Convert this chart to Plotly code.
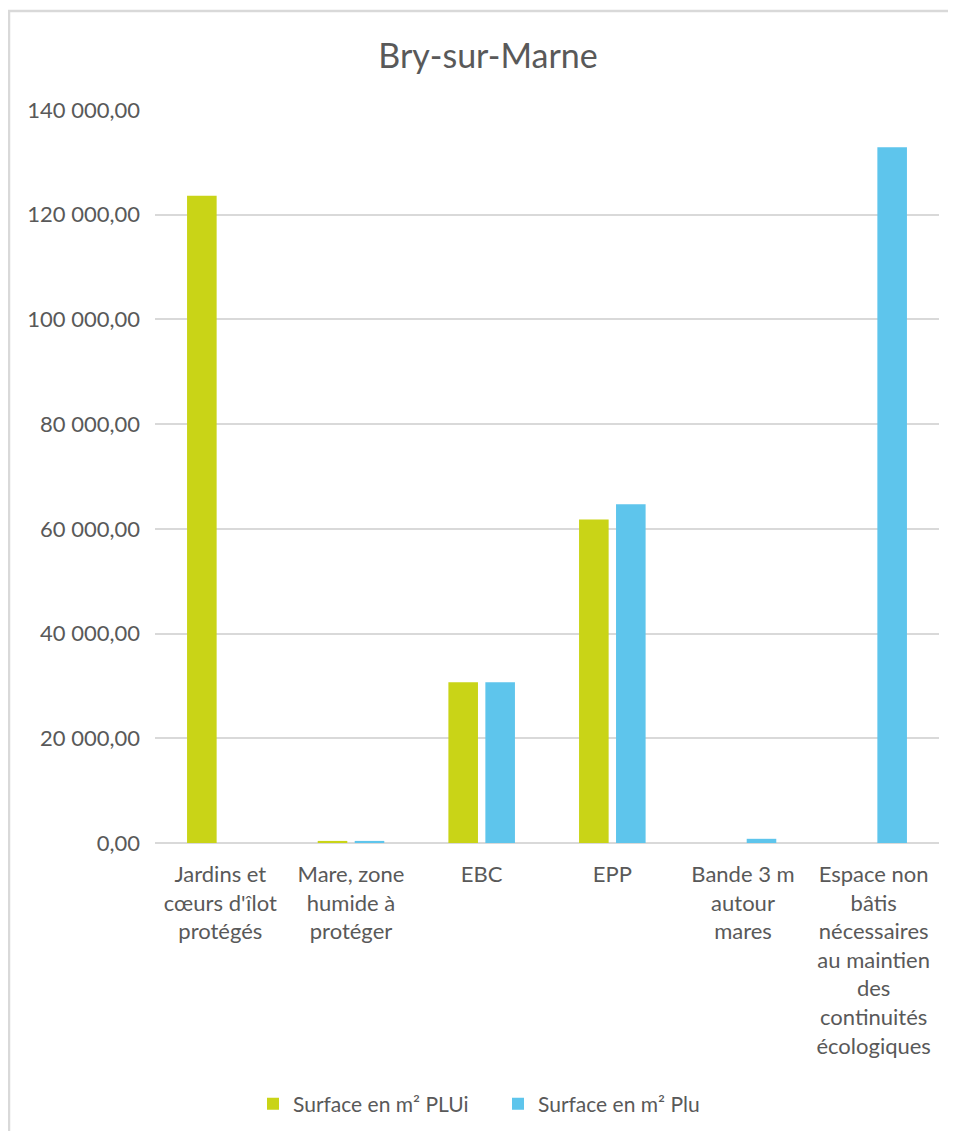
import plotly.graph_objects as go

# ── Data ──────────────────────────────────────────────────────────────────────
categories = [
    "Jardins et<br>cœurs d'îlot<br>protégés",
    "Mare, zone<br>humide à<br>protéger",
    "EBC",
    "EPP",
    "Bande 3 m<br>autour<br>mares",
    "Espace non<br>bâtis<br>nécessaires<br>au maintien<br>des<br>continuités<br>écologiques",
]
surface_plui = [123600, 400, 30700, 61800, 0, 0]
surface_plu = [0, 400, 30700, 64700, 800, 132900]
y_ticks = [0, 20000, 40000, 60000, 80000, 100000, 120000, 140000]

GREEN = "#C9D417"
BLUE = "#5EC5EC"
TEXT = "#595959"
GRID = "#D9D9D9"
FONT = "Lato, 'Open Sans', sans-serif"

# page body has an 8px margin, so the figure sits at (8, 8)
OFF = 8
W, H = 940, 1123
M = dict(l=147, r=9, t=102, b=288)

# ── Figure ────────────────────────────────────────────────────────────────────
fig = go.Figure()
fig.add_trace(go.Bar(x=categories, y=surface_plui, name="Surface en m² PLUi",
                     marker=dict(color=GREEN, line_width=0)))
fig.add_trace(go.Bar(x=categories, y=surface_plu, name="Surface en m² Plu",
                     marker=dict(color=BLUE, line_width=0)))

fig.update_layout(
    width=W, height=H,
    margin=M,
    barmode="group", bargap=0.434, bargroupgap=0.2,
    separators=", ",
    paper_bgcolor="white", plot_bgcolor="white",
    font=dict(family=FONT, size=22, color=TEXT),
    title=dict(text="Bry-sur-Marne", x=(488 - OFF) / W, xref="container", xanchor="center",
               y=1 - (56 - OFF) / H, yref="container", yanchor="middle",
               font=dict(size=34, color=TEXT)),
    legend=dict(orientation="h", x=(498 - OFF) / W, xref="container", xanchor="center",
                y=1 - (1104 - OFF) / H, yref="container", yanchor="middle",
                font=dict(size=21, color=TEXT), itemwidth=30,
                entrywidth=200, entrywidthmode="pixels"),
    showlegend=True,
)
fig.update_yaxes(range=[0, 140000], tickvals=y_ticks, tickformat=",.2f",
                 showgrid=True, gridcolor=GRID, gridwidth=1.5,
                 zeroline=True, zerolinecolor=GRID, zerolinewidth=2,
                 showline=False, ticks="", ticklabelstandoff=14)
fig.update_xaxes(showgrid=False, showline=False, ticks="", ticklabelstandoff=16,
                 tickangle=0)

# light frame around the chart area (top and left edges visible)
pw = W - M["l"] - M["r"]
ph = H - M["t"] - M["b"]
def px_x(px):
    return (px - OFF - M["l"]) / pw
def px_y(py):
    return (H - M["b"] - (py - OFF)) / ph
frame = dict(type="line", xref="paper", yref="paper", line=dict(color=GRID, width=2.5))
fig.add_shape(**frame, x0=px_x(OFF), x1=px_x(W + OFF + 5), y0=px_y(11), y1=px_y(11))
fig.add_shape(**frame, x0=px_x(OFF + 1), x1=px_x(OFF + 1), y0=px_y(11), y1=px_y(H + OFF + 5))

fig.write_html("out.html")
